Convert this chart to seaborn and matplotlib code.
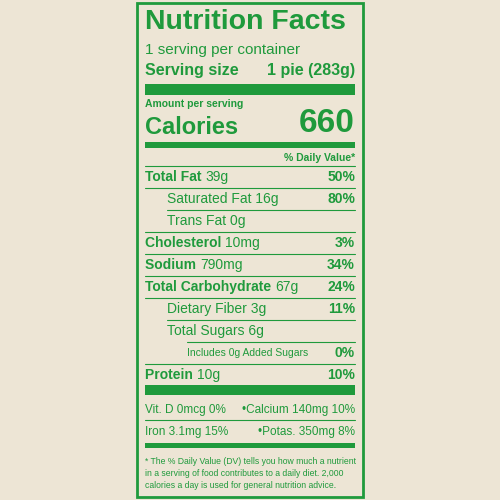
import matplotlib
matplotlib.use("Agg")
import matplotlib.pyplot as plt
import seaborn as sns
from matplotlib.patches import Rectangle

sns.set_theme(style="white")
plt.rcParams['font.family'] = ['Liberation Sans Narrow', 'Liberation Sans', 'DejaVu Sans']

BG = "#ede5d5"
GREEN = "#1f9a3c"

title = "Nutrition Facts"
servings = "1 serving per container"
serving_size = "1 pie (283g)"
calories = "660"
names = ["Total Fat", "Saturated Fat", "Trans Fat", "Cholesterol", "Sodium",
         "Total Carbohydrate", "Dietary Fiber", "Total Sugars", "Includes 0g Added Sugars", "Protein"]
amounts = ["39g", "16g", "0g", "10mg", "790mg", "67g", "3g", "6g", "", "10g"]
dvs = ["50%", "80%", "", "3%", "34%", "24%", "11%", "", "0%", "10%"]
indent = [0, 1, 1, 0, 0, 0, 1, 1, 2, 0]
bold = [1, 0, 0, 1, 1, 1, 0, 0, 0, 1]
vitamins = [["Vit. D 0mcg 0%", "Calcium 140mg 10%"], ["Iron 3.1mg 15%", "Potas. 350mg 8%"]]
footnote = ["* The % Daily Value (DV) tells you how much a nutrient",
            "in a serving of food contributes to a daily diet. 2,000",
            "calories a day is used for general nutrition advice."]

fig = plt.figure(figsize=(5, 5), dpi=100, facecolor=BG)
ax = fig.add_axes([0, 0, 1, 1])
ax.set_facecolor(BG)
ax.set_xlim(0, 500); ax.set_ylim(500, 0); ax.axis("off")

L, R = 145, 355
ax.add_patch(Rectangle((137, 3), 226, 494, fill=False, ec=GREEN, lw=2))

def bar(y, h, x0=L):
    ax.add_patch(Rectangle((x0, y), R - x0, h, color=GREEN, lw=0))

def txt(x, y, s, size, w="normal", ha="left"):
    ax.text(x, y, s, fontsize=size, fontweight=w, color=GREEN, ha=ha, va="center")

txt(L, 22, title, 20.5, "bold")
txt(L, 50, servings, 11)
txt(L, 71, "Serving size", 11.5, "bold")
txt(R, 71, serving_size, 11.5, "bold", "right")
bar(84, 11)
txt(L, 104, "Amount per serving", 7.5, "bold")
txt(L, 127, "Calories", 17, "bold")
txt(R, 123, calories, 24, "bold", "right")
bar(142, 6)
txt(R, 158, "% Daily Value*", 7.5, "bold", "right")
ax.plot([L, R], [166, 166], color=GREEN, lw=0.8)

y = 177
xind = [L, 167, 187]
for i, n in enumerate(names):
    x = xind[indent[i]]
    size = 7.5 if indent[i] == 2 else 10
    if bold[i]:
        t = ax.text(x, y, n + " ", fontsize=size, fontweight="bold", color=GREEN, va="center")
        ax.annotate(amounts[i], xycoords=t, xy=(1, 0.5), va="center", fontsize=size, color=GREEN)
    else:
        txt(x, y, (n + " " + amounts[i]).strip(), size)
    if dvs[i]:
        txt(R, y, dvs[i], 10, "bold", "right")
    if i < len(names) - 1:
        x0 = L if (indent[i] == 0 or indent[i + 1] == 0) else xind[indent[i + 1]]
        ax.plot([x0, R], [y + 11, y + 11], color=GREEN, lw=0.8)
    y += 22
bar(385, 10)
for j, (a, b) in enumerate(vitamins):
    yy = 410 + 22 * j
    txt(L, yy, a, 8.5)
    txt(R, yy, "\u2022" + b, 8.5, ha="right")
ax.plot([L, R], [420, 420], color=GREEN, lw=0.8)
bar(443, 5)
for k, line in enumerate(footnote):
    txt(L, 461 + 12 * k, line, 6.2)

fig.savefig("out.png", dpi=100, facecolor=BG)
